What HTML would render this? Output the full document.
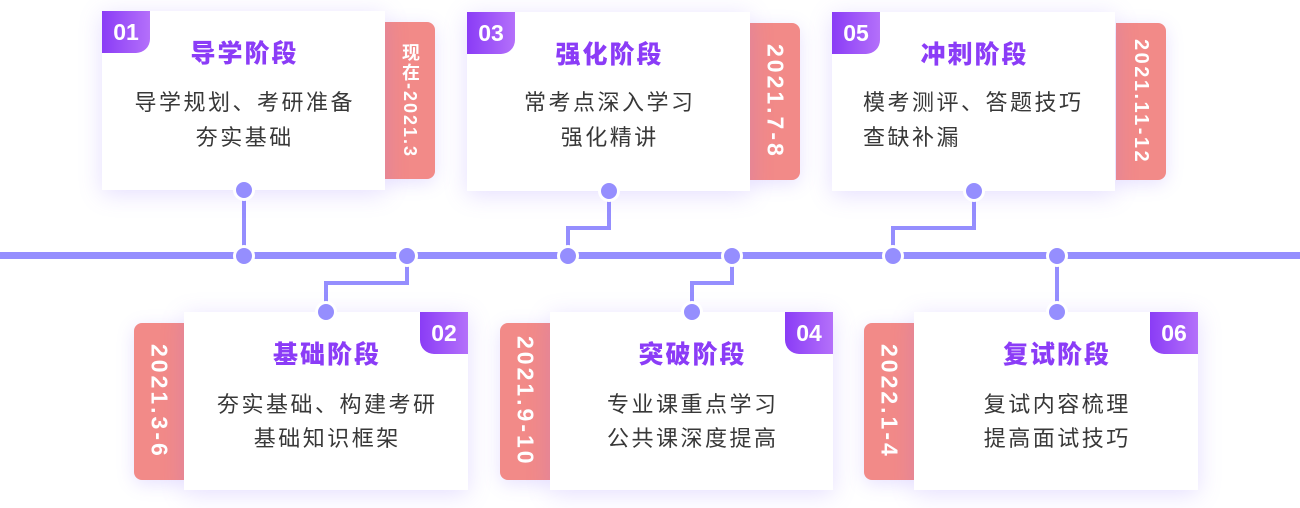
<!DOCTYPE html>
<html><head><meta charset="utf-8">
<style>
*{margin:0;padding:0;box-sizing:border-box}
body{width:1300px;height:508px;background:#fff;position:relative;overflow:hidden;font-family:"Liberation Sans","Noto Sans CJK SC",sans-serif}
.line{position:absolute;background:#958efe}
.card{position:absolute;width:283px;height:179px;background:#fff;box-shadow:0 4px 22px rgba(136,106,255,0.22)}
.tab{position:absolute;width:50px;height:157px;background:#f28a88;box-shadow:0 4px 18px rgba(136,106,255,0.2);display:flex;align-items:center;justify-content:center}
.tab span{writing-mode:vertical-rl;color:#fff;font-weight:bold;font-size:23px;letter-spacing:3px;font-family:"Liberation Sans","Noto Sans CJK SC",sans-serif;line-height:1}
.badge{position:absolute;width:48px;height:42px;background:linear-gradient(90deg,#8a3cf6,#b470fa);color:#fff;font-weight:bold;font-size:23px;line-height:42px;text-align:center;font-family:"Liberation Sans",sans-serif}
.title{position:absolute;left:0;width:100%;text-align:center;font-family:"Liberation Sans","Noto Sans CJK SC",sans-serif;font-weight:900;font-size:25px;color:#8b3cf7;letter-spacing:2px;padding-left:2px;line-height:30px;white-space:nowrap}
.txt{position:absolute;left:0;width:100%;text-align:center;font-family:"Liberation Sans","Noto Sans CJK SC",sans-serif;font-size:22px;color:#383838;letter-spacing:2.5px;padding-left:2.5px;line-height:30px;white-space:nowrap}
.dot{position:absolute;width:22px;height:22px;border-radius:50%;background:#958efe;border:3px solid #fff}
</style></head><body>

<!-- main line -->
<div class="line" style="left:0;top:252px;width:1300px;height:7px"></div>

<!-- connectors -->
<div class="line" style="left:242px;top:190px;width:4px;height:66px"></div>

<div class="line" style="left:405px;top:256px;width:4px;height:29px"></div>
<div class="line" style="left:324px;top:281px;width:85px;height:4px"></div>
<div class="line" style="left:324px;top:281px;width:4px;height:31px"></div>

<div class="line" style="left:607px;top:190px;width:4px;height:40px"></div>
<div class="line" style="left:566px;top:226px;width:45px;height:4px"></div>
<div class="line" style="left:566px;top:226px;width:4px;height:30px"></div>

<div class="line" style="left:730px;top:256px;width:4px;height:29px"></div>
<div class="line" style="left:690px;top:281px;width:44px;height:4px"></div>
<div class="line" style="left:690px;top:281px;width:4px;height:31px"></div>

<div class="line" style="left:972px;top:190px;width:4px;height:40px"></div>
<div class="line" style="left:891px;top:226px;width:85px;height:4px"></div>
<div class="line" style="left:891px;top:226px;width:4px;height:30px"></div>

<div class="line" style="left:1055px;top:256px;width:4px;height:56px"></div>

<!-- tabs -->
<div class="tab" style="left:385px;top:22px;border-radius:0 8px 8px 0"><span style="font-size:18px;letter-spacing:2px">现在-2021.3</span></div>
<div class="tab" style="left:750px;top:23px;border-radius:0 8px 8px 0"><span>2021.7-8</span></div>
<div class="tab" style="left:1116px;top:23px;border-radius:0 8px 8px 0"><span style="font-size:20px;letter-spacing:2.5px">2021.11-12</span></div>

<div class="tab" style="left:134px;top:323px;border-radius:8px 0 0 8px"><span>2021.3-6</span></div>
<div class="tab" style="left:500px;top:323px;border-radius:8px 0 0 8px"><span>2021.9-10</span></div>
<div class="tab" style="left:864px;top:323px;border-radius:8px 0 0 8px"><span>2022.1-4</span></div>

<!-- top cards -->
<div class="card" style="left:102px;top:11px">
  <div class="badge" style="left:0;top:0;border-radius:0 0 14px 0">01</div>
  <div class="title" style="top:28px">导学阶段</div>
  <div class="txt" style="top:77px">导学规划、考研准备</div>
  <div class="txt" style="top:112px">夯实基础</div>
</div>
<div class="card" style="left:467px;top:12px">
  <div class="badge" style="left:0;top:0;border-radius:0 0 14px 0">03</div>
  <div class="title" style="top:28px">强化阶段</div>
  <div class="txt" style="top:76px">常考点深入学习</div>
  <div class="txt" style="top:111px">强化精讲</div>
</div>
<div class="card" style="left:832px;top:12px">
  <div class="badge" style="left:0;top:0;border-radius:0 0 14px 0">05</div>
  <div class="title" style="top:28px">冲刺阶段</div>
  <div class="txt" style="top:76px;left:31px;width:auto;text-align:left;padding-left:0">模考测评、答题技巧</div>
  <div class="txt" style="top:111px;left:31px;width:auto;text-align:left;padding-left:0">查缺补漏</div>
</div>

<!-- bottom cards -->
<div class="card" style="left:184px;top:312px;width:284px;height:178px">
  <div class="badge" style="left:236px;top:0;border-radius:0 0 0 14px">02</div>
  <div class="title" style="top:28px">基础阶段</div>
  <div class="txt" style="top:78px">夯实基础、构建考研</div>
  <div class="txt" style="top:112px">基础知识框架</div>
</div>
<div class="card" style="left:550px;top:312px;width:283px;height:178px">
  <div class="badge" style="left:235px;top:0;border-radius:0 0 0 14px">04</div>
  <div class="title" style="top:28px">突破阶段</div>
  <div class="txt" style="top:78px">专业课重点学习</div>
  <div class="txt" style="top:112px">公共课深度提高</div>
</div>
<div class="card" style="left:914px;top:312px;width:284px;height:178px">
  <div class="badge" style="left:236px;top:0;border-radius:0 0 0 14px">06</div>
  <div class="title" style="top:28px">复试阶段</div>
  <div class="txt" style="top:78px">复试内容梳理</div>
  <div class="txt" style="top:112px">提高面试技巧</div>
</div>

<!-- dots -->
<div class="dot" style="left:233px;top:179px"></div>
<div class="dot" style="left:598px;top:180px"></div>
<div class="dot" style="left:963px;top:180px"></div>

<div class="dot" style="left:315px;top:301px"></div>
<div class="dot" style="left:681px;top:301px"></div>
<div class="dot" style="left:1046px;top:301px"></div>

<div class="dot" style="left:233px;top:245px"></div>
<div class="dot" style="left:396px;top:245px"></div>
<div class="dot" style="left:557px;top:245px"></div>
<div class="dot" style="left:721px;top:245px"></div>
<div class="dot" style="left:882px;top:245px"></div>
<div class="dot" style="left:1046px;top:245px"></div>

</body></html>
